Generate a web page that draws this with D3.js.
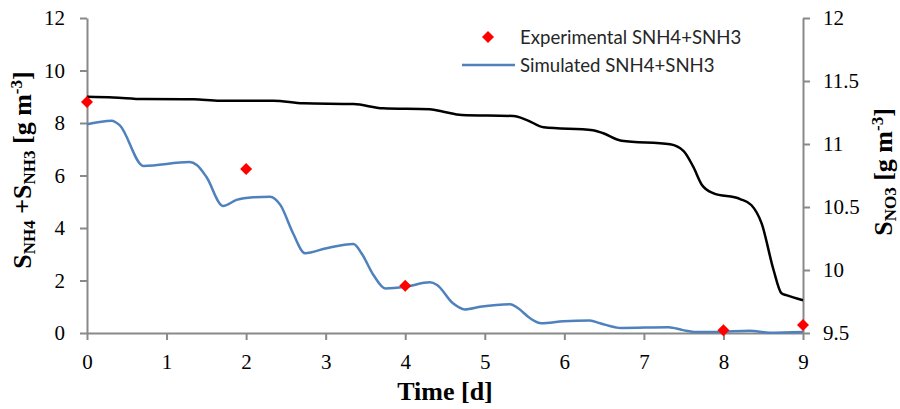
<!DOCTYPE html>
<html>
<head>
<meta charset="utf-8">
<script src="https://cdn.jsdelivr.net/npm/d3@7"></script>
<style>
  body { margin: 0; background: #fff; }
  svg { display: block; }
  .axis .tick text { font-family: "Liberation Serif", serif; font-size: 21px; fill: #000; }
  .axis path.domain, .axis .tick line { stroke: #898989; stroke-width: 2px; }
  .title { font-family: "Liberation Serif", serif; font-weight: bold; }
  .legend text { font-family: Lato, sans-serif; font-size: 18.6px; fill: #262626; }
</style>
</head>
<body>
<div id="chart"></div>
<script>
// experimental points (left axis)
const expDays = [0, 2, 4, 8, 9];
const expNH = [8.8, 6.25, 1.8, 0.1, 0.3];

// simulated SNH4+SNH3 (left axis)
const simDays = [0, 0.31, 0.41, 0.71, 1.29, 1.38, 1.5, 1.71, 1.88, 2.09, 2.3, 2.43, 2.59, 2.74, 3.01, 3.35, 3.45, 3.6, 3.75, 4.0, 4.31, 4.4, 4.6, 4.75, 4.94, 5.32, 5.42, 5.57, 5.71, 5.99, 6.32, 6.45, 6.72, 7.31, 7.49, 7.66, 7.91, 8.33, 8.58, 9];
const simNH = [7.95, 8.09, 7.92, 6.36, 6.51, 6.4, 5.95, 4.84, 5.07, 5.17, 5.19, 4.88, 3.8, 3.04, 3.23, 3.39, 3.04, 2.21, 1.7, 1.76, 1.93, 1.83, 1.13, 0.9, 1.0, 1.1, 0.94, 0.56, 0.37, 0.45, 0.48, 0.37, 0.19, 0.22, 0.11, 0.04, 0.04, 0.09, 0.01, 0.04];

// simulated SNO3 (right axis)
const no3Days = [0, 0.33, 0.71, 1.34, 1.67, 2.34, 2.72, 3.35, 3.72, 4.31, 4.48, 4.71, 5.36, 5.53, 5.74, 6.36, 6.49, 6.72, 7.33, 7.5, 7.62, 7.73, 7.87, 8.21, 8.35, 8.48, 8.63, 8.73, 8.79, 9];
const no3 = [11.375, 11.37, 11.357, 11.355, 11.344, 11.344, 11.323, 11.317, 11.283, 11.275, 11.256, 11.23, 11.222, 11.19, 11.133, 11.11, 11.085, 11.026, 10.998, 10.944, 10.82, 10.675, 10.61, 10.563, 10.516, 10.37, 10.0, 9.815, 9.8, 9.76];

const xTicks = [0, 1, 2, 3, 4, 5, 6, 7, 8, 9];
const yLeftTicks = [0, 2, 4, 6, 8, 10, 12];
const yRightTicks = [9.5, 10, 10.5, 11, 11.5, 12];

const margin = { top: 18, right: 97, bottom: 76, left: 87 },
  width = 900 - margin.left - margin.right,
  height = 409 - margin.top - margin.bottom;

const svg = d3.select("#chart")
  .append("svg")
  .attr("width", 900)
  .attr("height", 409)
  .append("g")
  .attr("transform", `translate(${margin.left},${margin.top})`);

const x = d3.scaleLinear().domain([0, 9]).range([0, width]);
const yL = d3.scaleLinear().domain([0, 12]).range([height, 0]);
const yR = d3.scaleLinear().domain([9.5, 12]).range([height, 0]);

// x axis
svg.append("g")
  .attr("class", "axis")
  .attr("transform", `translate(0,${height})`)
  .call(d3.axisBottom(x).tickValues(xTicks).tickSize(7).tickSizeOuter(0).tickPadding(14).tickFormat(d3.format("d")));

// left axis
svg.append("g")
  .attr("class", "axis")
  .call(d3.axisLeft(yL).tickValues(yLeftTicks).tickSize(7).tickSizeOuter(0).tickPadding(15).tickFormat(d3.format("d")));

// right axis
svg.append("g")
  .attr("class", "axis")
  .attr("transform", `translate(${width},0)`)
  .call(d3.axisRight(yR).tickValues(yRightTicks).tickSize(7).tickSizeOuter(0).tickPadding(13).tickFormat(d => String(d)));

// lines
const lineL = d3.line().x(d => x(d[0])).y(d => yL(d[1])).curve(d3.curveMonotoneX);
const lineR = d3.line().x(d => x(d[0])).y(d => yR(d[1])).curve(d3.curveMonotoneX);

svg.append("path")
  .datum(no3Days.map((d, i) => [d, no3[i]]))
  .attr("fill", "none")
  .attr("stroke", "#000")
  .attr("stroke-width", 2.5)
  .attr("d", lineR);

svg.append("path")
  .datum(simDays.map((d, i) => [d, simNH[i]]))
  .attr("fill", "none")
  .attr("stroke", "#4F81BD")
  .attr("stroke-width", 2.5)
  .attr("d", lineL);

// experimental diamonds
const diamond = d3.symbol().type(d3.symbolSquare).size(72);
svg.selectAll(".exp")
  .data(expDays.map((d, i) => [d, expNH[i]]))
  .join("path")
  .attr("class", "exp")
  .attr("d", diamond)
  .attr("transform", d => `translate(${x(d[0])},${yL(d[1])}) rotate(45)`)
  .attr("fill", "#FF0000");

// legend
const legend = svg.append("g")
  .attr("class", "legend")
  .attr("transform", `translate(${488 - margin.left},${37 - margin.top})`);
legend.append("path")
  .attr("d", diamond)
  .attr("transform", "rotate(45)")
  .attr("fill", "#FF0000");
legend.append("text")
  .attr("x", 32).attr("y", 0).attr("dy", "0.35em")
  .text("Experimental SNH4+SNH3");
legend.append("line")
  .attr("x1", -26).attr("x2", 27).attr("y1", 28).attr("y2", 28)
  .attr("stroke", "#4F81BD").attr("stroke-width", 2.5);
legend.append("text")
  .attr("x", 32).attr("y", 28).attr("dy", "0.35em")
  .text("Simulated SNH4+SNH3");

// axis titles
svg.append("text")
  .attr("class", "title")
  .attr("x", width / 2).attr("y", height + 67)
  .attr("text-anchor", "middle")
  .attr("font-size", 26)
  .text("Time [d]");

const leftTitle = svg.append("text")
  .attr("class", "title")
  .attr("transform", `translate(${-margin.left + 31},${170 - margin.top}) rotate(-90)`)
  .attr("text-anchor", "middle")
  .attr("font-size", 26);
leftTitle.append("tspan").text("S");
leftTitle.append("tspan").attr("baseline-shift", "-22%").attr("font-size", 17).text("NH4");
leftTitle.append("tspan").text(" +S");
leftTitle.append("tspan").attr("baseline-shift", "-22%").attr("font-size", 17).text("NH3");
leftTitle.append("tspan").text(" [g m");
leftTitle.append("tspan").attr("baseline-shift", "super").attr("font-size", 17).text("-3");
leftTitle.append("tspan").text("]");

const rightTitle = svg.append("text")
  .attr("class", "title")
  .attr("transform", `translate(${width + 89},${172 - margin.top}) rotate(-90)`)
  .attr("text-anchor", "middle")
  .attr("font-size", 26);
rightTitle.append("tspan").text("S");
rightTitle.append("tspan").attr("baseline-shift", "-22%").attr("font-size", 17).text("NO3");
rightTitle.append("tspan").text(" [g m");
rightTitle.append("tspan").attr("baseline-shift", "super").attr("font-size", 17).text("-3");
rightTitle.append("tspan").text("]");
</script>
</body>
</html>
